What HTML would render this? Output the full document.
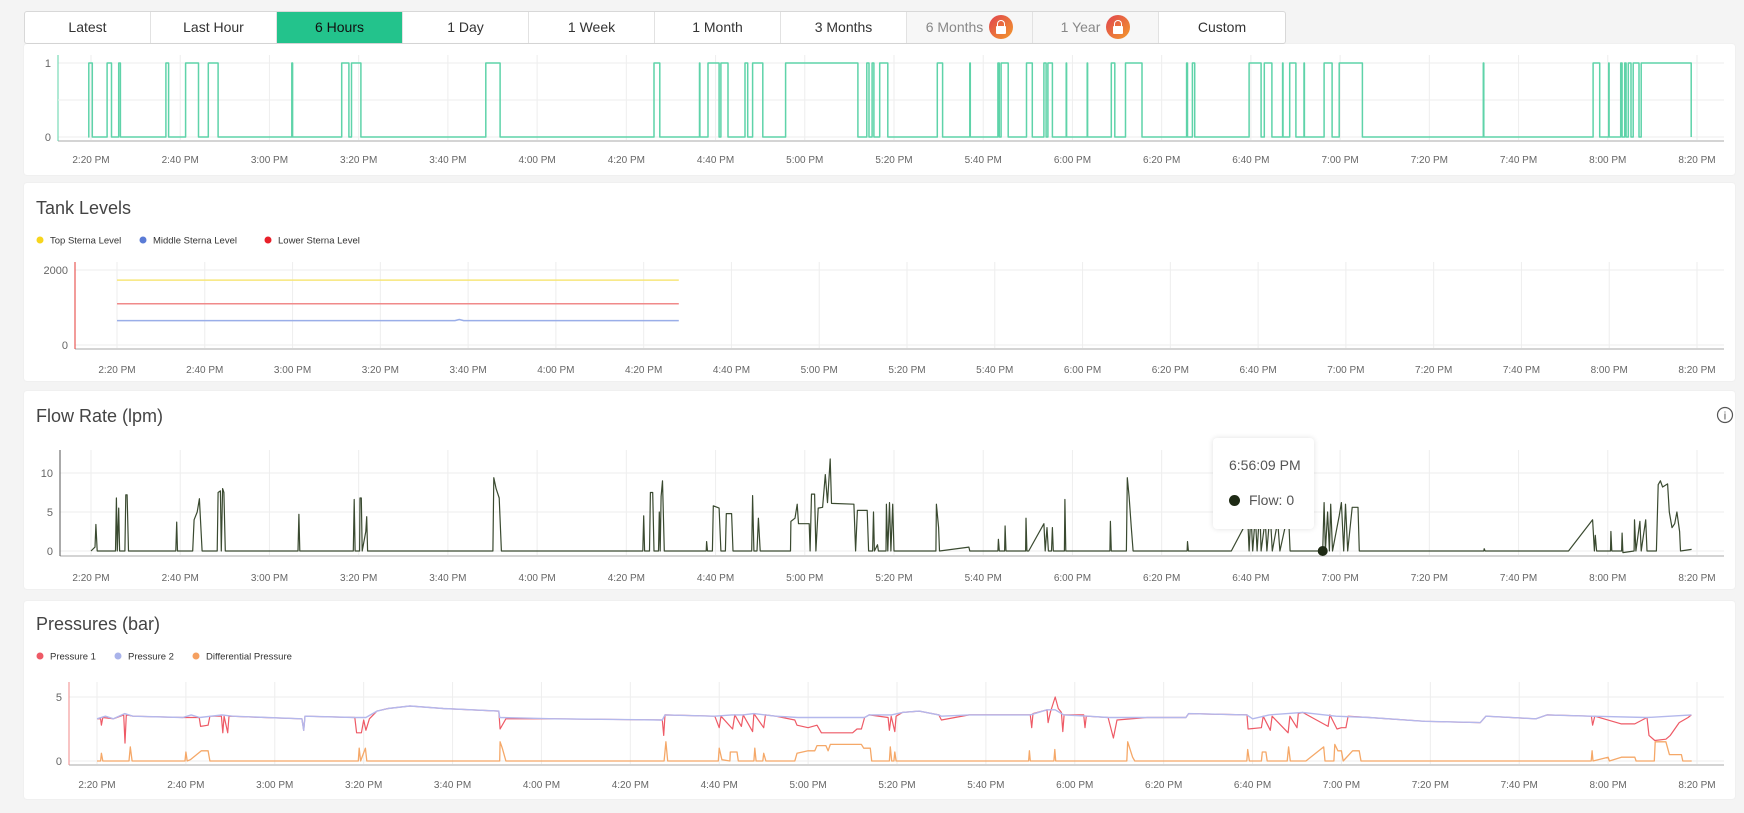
<!DOCTYPE html>
<html><head><meta charset="utf-8">
<style>
html,body{margin:0;padding:0;background:#f4f4f4;width:1744px;height:813px;overflow:hidden;font-family:"Liberation Sans",sans-serif;}
.card{position:absolute;left:24px;width:1711px;background:#fff;border-radius:3px;box-shadow:0 0 2px rgba(0,0,0,0.06);}
.btnbar{position:absolute;left:24px;top:11px;height:31px;display:flex;border:1px solid #d8d8d8;border-radius:3px;background:#fff;}
.btn{width:126px;height:31px;line-height:31px;text-align:center;font-size:14px;color:#333;border-right:1px solid #e2e2e2;box-sizing:border-box;position:relative;}
.btn:last-child{border-right:none;}
.btn.active{background:#23c38c;color:#111;}
.btn.locked{background:#f7f7f7;color:#888;}
.lock{display:inline-block;width:24px;height:24px;border-radius:50%;background:linear-gradient(135deg,#e0434f,#f39a2c);vertical-align:middle;margin-left:6px;position:relative;top:-1px;}
.lock:before{content:"";position:absolute;left:8px;top:5px;width:6px;height:6px;border:1.5px solid #fff;border-bottom:none;border-radius:4px 4px 0 0;}
.lock:after{content:"";position:absolute;left:7px;top:11px;width:10px;height:8px;background:#fff;border-radius:1px;}
.title{position:absolute;left:36px;font-size:18px;color:#444;}
svg{position:absolute;left:0;top:0;}
.tooltip{position:absolute;left:1213px;top:438px;width:101px;height:91px;background:#fff;border-radius:4px;box-shadow:0 0 6px rgba(0,0,0,0.12);font-size:14px;color:#555;}
</style></head><body>
<div class="btnbar">
<div class="btn">Latest</div>
<div class="btn">Last Hour</div>
<div class="btn active">6 Hours</div>
<div class="btn">1 Day</div>
<div class="btn">1 Week</div>
<div class="btn">1 Month</div>
<div class="btn">3 Months</div>
<div class="btn locked">6 Months<span class="lock"></span></div>
<div class="btn locked">1 Year<span class="lock"></span></div>
<div class="btn">Custom</div>
</div>
<div class="card" style="top:44px;height:131px"></div>
<div class="card" style="top:183px;height:198px"></div>
<div class="card" style="top:391px;height:198px"></div>
<div class="card" style="top:601px;height:198px"></div>
<div class="title" style="top:198px">Tank Levels</div>
<div class="title" style="top:406px">Flow Rate (lpm)</div>
<div class="title" style="top:614px">Pressures (bar)</div>
<svg id="chart" width="1744" height="813"></svg>
<div class="tooltip">
<div style="position:absolute;left:16px;top:19px">6:56:09 PM</div>
<div style="position:absolute;left:16px;top:57px;width:11px;height:11px;border-radius:50%;background:#1e2a14"></div>
<div style="position:absolute;left:36px;top:54px">Flow: 0</div>
</div>
<script>
const tickLabels=["2:20 PM","2:40 PM","3:00 PM","3:20 PM","3:40 PM","4:00 PM","4:20 PM","4:40 PM","5:00 PM","5:20 PM","5:40 PM","6:00 PM","6:20 PM","6:40 PM","7:00 PM","7:20 PM","7:40 PM","8:00 PM","8:20 PM"];
// status on-intervals in minutes since 2:20 PM
const statusOn=[[-0.5,0.3],[3.6,4.6],[6.2,6.6],[16.8,17.4],[21.2,24.1],[26.3,28.5],[45,45.2],[56.2,57.8],[58.4,60.5],[88.5,91.7],[126.2,127.5],[136.4,136.5],[138.3,140.8],[141.2,142.8],[146.6,147.2],[148.3,150.6],[155.7,171.9],[173.9,174.4],[175.1,175.5],[176.8,178.6],[189.7,190.9],[197,197.1],[203.3,203.6],[204,205.6],[209.7,211],[213.6,214.1],[214.5,215.5],[218.6,218.7],[223.3,223.4],[228.7,229.5],[231.9,235.6],[245.6,245.8],[246.9,247.4],[259.6,262.3],[263,264.7],[267.1,267.2],[268.7,270.1],[271.9,272],[276.4,278.2],[279.8,285],[312.1,312.2],[336.7,338.2],[340.2,340.3],[342.9,343.2],[343.8,344.1],[344.6,345.2],[345.7,347],[347.5,358.7]];
const tankTop=[[0,1730],[128,1730]];
const tankMid=[[0,650],[77,650],[78,680],[79,650],[128,650]];
const tankLow=[[0,1100],[128,1100]];
const flowPts=[[0,0],[0.9,0.5],[1.1,3.4],[1.4,0],[5.5,0],[5.7,6.8],[5.9,0],[6.2,5.5],[6.4,0],[7.6,0],[7.8,7.2],[8.1,7.2],[8.4,0],[19,0],[19.2,3.7],[19.4,0],[22.8,0],[23.1,4],[23.8,5],[24.3,6.7],[24.9,0],[28.3,0],[28.5,7.5],[29,7.7],[29.2,0],[29.5,8],[29.8,7.5],[30.1,0],[46.4,0],[46.6,4.7],[46.8,0],[58.8,0],[59,6.6],[59.2,0],[60.2,0],[60.3,6.8],[60.6,6.8],[60.8,0],[61.6,2.5],[61.8,4.4],[62,0],[90.1,0],[90.3,9.4],[90.8,8],[91.5,6.8],[92,0],[123.7,0],[123.9,4.5],[124.1,0],[125.2,0],[125.4,7.5],[125.9,7.5],[126.2,0],[127.2,0],[127.4,5],[127.6,0],[127.8,7],[128.1,9],[128.5,0],[137.9,0],[138,1.2],[138.2,0],[139.3,0],[139.5,5.8],[140.8,5.5],[141.2,0],[142.2,0],[142.4,4.8],[143.6,4.8],[143.9,0],[148.1,0],[148.3,7.1],[148.6,0],[149.3,0],[149.6,4.2],[150,0],[156.8,0],[156.9,3.8],[157.8,4.2],[158.3,6],[158.6,3.5],[161,3.5],[161.2,0],[161.5,7.3],[162.2,7.3],[162.5,0],[163,5.5],[164,5.6],[164.6,9.8],[165.1,6.2],[165.7,11.8],[166,6.1],[171,6],[171.4,0],[171.8,5.2],[174,5.2],[174.3,0],[175.2,0],[175.4,5],[175.6,0],[176.3,0.8],[176.5,0],[178.2,0],[178.3,6],[178.6,0],[179,6.2],[179.3,0],[179.7,6],[180,0],[189.4,0],[189.5,6],[190,3],[190.2,0],[196.8,0.5],[197,0],[203.3,0],[203.4,1.5],[203.6,0],[204.8,0],[204.9,3.2],[205.1,0],[209.5,0],[209.6,4.2],[209.8,0],[210.2,0],[213.6,3.5],[213.9,0],[214.3,3],[214.6,0],[215.3,0],[215.5,3],[215.7,0],[218.2,0],[218.3,6.6],[218.5,0],[228.4,0],[228.5,3.8],[228.7,0],[232.1,0],[232.3,9.4],[232.7,7],[233.2,3],[233.6,0],[245.7,0],[245.8,1.2],[246,0],[255.6,0],[259.3,4],[259.6,0],[260,5],[260.4,0],[261,4.5],[261.4,0],[262,5.5],[262.3,0],[263.2,4],[263.6,0],[264.3,5],[264.8,0],[266,3.8],[266.5,0],[268.4,5],[268.8,0],[275.9,0],[276.1,0],[276.4,6.2],[276.7,0],[277.2,5],[277.6,0],[277.9,6],[278.3,0],[279.8,4.5],[280.3,6.2],[280.8,0],[281.2,6],[281.7,0],[282.7,5.6],[284,5.6],[284.3,0],[312.2,0],[312.3,0.3],[312.5,0],[331.2,0],[336.6,4],[337,0],[337.2,2],[337.5,0],[340.6,0],[340.7,2.5],[340.9,0],[343.1,0],[343.2,2.3],[343.4,-0.2],[345.9,0],[346,4],[346.3,0],[347.2,3.8],[347.5,0],[348.5,4],[348.8,0],[350.9,0],[351.3,8.5],[351.8,9],[352.3,8.2],[353.4,8.6],[353.8,5],[354.4,3],[355,3.5],[355.5,5],[356.1,2.5],[356.3,0],[358.8,0.2]];
const p2Pts=[[0,3.3],[1.9,3.5],[3.7,3.3],[6.2,3.7],[8.1,3.5],[19.3,3.4],[21.2,3.6],[23.1,3.4],[28.1,3.6],[30.5,3.5],[46.1,3.3],[46.5,2.4],[46.8,3.5],[58,3.4],[60.5,3.4],[63,3.9],[65.5,4.1],[70.4,4.3],[77.9,4.1],[90.4,3.9],[90.6,3.4],[102.9,3.3],[127.2,3.2],[127.8,3.6],[139,3.5],[142.8,3.6],[145.3,3.6],[147.8,3.7],[152.7,3.5],[157.7,3.4],[172.7,3.4],[173.75,3.6],[178.75,3.6],[181.25,3.8],[185,3.9],[189.4,3.6],[190,3.5],[196.25,3.6],[205,3.6],[210,3.6],[213.75,4.0],[215.6,4.0],[217.5,3.6],[223.1,3.5],[227.5,3.4],[236.25,3.4],[245,3.4],[245.6,3.7],[258.75,3.6],[260,3.3],[263.75,3.6],[271.25,3.8],[278.75,3.5],[286.25,3.4],[298.75,3.1],[311.25,3.0],[312.5,3.5],[323.75,3.3],[326.25,3.6],[336.25,3.5],[348.75,3.4],[358.75,3.6]];
const p1Pts=[[0,3.3],[0.8,3.3],[1,2.8],[1.3,3.4],[3.7,3.3],[6,3.6],[6.3,1.4],[6.6,3.6],[8.1,3.5],[19.3,3.4],[23,3.4],[23.3,2.7],[25,2.8],[25.4,3.5],[28,3.5],[28.3,2.2],[28.6,3.5],[29.4,2.2],[29.7,3.5],[46.1,3.3],[46.5,2.4],[46.8,3.5],[58,3.4],[58.4,2.2],[59.5,2.2],[60,3.2],[60.5,2.4],[61.3,3.3],[63,3.9],[65.5,4.1],[70.4,4.3],[77.9,4.1],[90.4,3.9],[90.7,2.5],[92,3.3],[102.9,3.3],[127.2,3.2],[127.5,2.0],[127.8,3.6],[139,3.5],[140,2.6],[140.4,3.5],[143,2.5],[143.5,3.6],[145,2.7],[145.4,3.6],[147.5,2.3],[147.8,3.7],[150,2.6],[150.4,3.6],[152.7,3.5],[157,3.2],[157.5,2.8],[160,2.6],[162,2.8],[163,2.2],[170,2.2],[171,2.5],[172,2.5],[172.7,3.4],[173.75,3.6],[178,3.4],[178.3,2.4],[178.7,3.5],[179.5,2.3],[179.8,3.5],[181.25,3.8],[185,3.9],[189.4,3.6],[190,3.2],[196.25,3.6],[205,3.6],[210,3.6],[210.3,2.6],[210.6,3.7],[213.75,4.0],[214,3.0],[214.5,3.8],[215.6,5.0],[216.3,4.1],[217,3.8],[217.3,2.3],[217.6,3.6],[222,3.6],[222.3,2.6],[222.6,3.5],[227.5,3.4],[228.7,1.8],[229.5,3.2],[236.25,3.4],[245,3.4],[245.6,3.7],[258.75,3.6],[259,2.5],[262,2.6],[262.4,3.5],[264,2.4],[264.4,3.5],[268,2.2],[268.4,3.5],[270,2.6],[270.3,3.7],[271.25,3.8],[277,2.7],[277.4,3.6],[279,2.5],[280,2.6],[281,2.6],[281.5,3.5],[286.25,3.4],[298.75,3.1],[311.25,3.0],[312.5,3.5],[323.75,3.3],[326.25,3.6],[336.25,3.5],[336.5,2.8],[337,3.5],[343,2.9],[346,2.9],[348.75,3.4],[349.2,2.0],[350.5,1.6],[353,1.7],[354,2.0],[356,3.0],[358,3.4],[358.75,3.6]];
const dpPts=[[0,0],[0.8,0],[1,0.6],[1.3,0],[7.2,0],[7.5,1.1],[7.9,0],[19.8,0],[20,0.7],[20.3,0],[21,0.1],[23.5,0.8],[25,0.8],[25.4,0],[58.8,0],[59,1],[59.3,0],[60.4,1],[60.7,0],[90.6,0],[90.7,1.5],[91.2,1.0],[92,0],[127.6,0],[128,1.5],[128.4,0],[139.8,0],[140,1],[140.6,0.1],[142.4,0],[142.5,0.7],[144,0.7],[144.3,0],[147.8,0],[148,1],[148.3,0],[149.8,0],[150,0.6],[150.5,0],[157,0],[157.5,0.6],[160,0.8],[161.5,0.8],[162,1.2],[164,1.2],[164.5,0.8],[165,1.3],[172,1.3],[172.5,1.0],[174,1.0],[174.3,0],[178.3,0],[178.5,1.1],[178.8,0],[179.3,0],[179.5,0.7],[179.8,0],[209.6,0],[209.8,0.8],[210,0],[215.3,0],[215.5,0.9],[215.7,0],[231.7,0],[231.9,1.5],[233,0.3],[233.5,0],[258.7,0],[258.9,0.9],[259.3,0],[262,0],[262.2,0.7],[263,0.7],[263.3,0],[267.8,0],[268.1,1.1],[268.5,0],[272,0],[276,1.1],[276.3,0],[278.3,0],[278.5,1.3],[279.2,0.8],[280,0.8],[280.4,0],[282.5,0.8],[284,0.8],[284.4,0],[336.2,0],[336.4,0.8],[336.6,0],[340,0.3],[340.3,0],[343,0.3],[346,0.3],[346.3,0],[350.4,0],[350.6,1.5],[353,1.5],[353.8,0.5],[355,0.5],[356.5,0.5],[356.8,0],[358.8,0]];

const NS="http://www.w3.org/2000/svg";
const svg=document.getElementById('chart');
function mk(tag,attrs,name){const e=document.createElementNS(NS,tag);for(const k in attrs)e.setAttribute(k,attrs[k]);


svg.appendChild(e);return e;}
function txt(x,y,s,anchor,size,fill,name){const t=mk('text',{x:x,y:y,'text-anchor':anchor,'font-size':size,fill:fill,'font-family':'Liberation Sans, sans-serif'},name);t.textContent=s;return t;}
function axes(P){
  const xs=t=>P.x0+t*(P.x1-P.x0)/360;
  for(let i=0;i<tickLabels.length;i++){const x=xs(i*20);
    mk('line',{x1:x,x2:x,y1:P.gTop,y2:P.axisY,stroke:'#eeeeee','stroke-width':1},'x-gridline');
    txt(x,P.lblY,tickLabels[i],'middle',10,'#666','x-tick-label');}
  const ys=v=>P.yZero+(P.yOne-P.yZero)*v/P.yRef;
  P.yTicks.forEach(v=>{mk('line',{x1:P.left,x2:P.right,y1:ys(v),y2:ys(v),stroke:'#eeeeee','stroke-width':1},'y-gridline');
    txt(P.left-7,ys(v)+4,String(v),'end',11,'#666','y-tick-label');});
  mk('line',{x1:P.left,x2:P.right,y1:P.axisY,y2:P.axisY,stroke:'#d4d4d4','stroke-width':2},'x-axis');
  mk('line',{x1:P.left,x2:P.left,y1:P.gTop,y2:P.axisY,stroke:P.axColor,'stroke-width':1},'y-axis');
  return [xs,ys];
}
function line(pts,xs,ys,color,w,name){const d=pts.map((p,i)=>(i?'L':'M')+xs(p[0]).toFixed(1)+','+ys(p[1]).toFixed(1)).join('');
  mk('path',{d:d,fill:'none',stroke:color,'stroke-width':w,'stroke-linejoin':'round'},name);}
// panel 1
(function(){const P={x0:91,x1:1697,left:58,right:1724,gTop:55,axisY:141,lblY:163,yZero:137,yOne:63,yRef:1,yTicks:[0,1],axColor:'#5fd3a9'};
 const [xs,ys]=axes(P);
 mk('line',{x1:P.left,x2:P.right,y1:100,y2:100,stroke:'#eeeeee'},'y-gridline');
 const pts=[];statusOn.forEach(iv=>{pts.push([iv[0],0],[iv[0],1],[iv[1],1],[iv[1],0]);});
 pts.unshift([-0.5,1]);pts.push([358.7,0]);
 line(pts,xs,ys,'#5fd3a9',1.5,'status-line');})();
// panel 2
(function(){const P={x0:117,x1:1697,left:75,right:1724,gTop:262,axisY:349,lblY:373,yZero:345,yOne:270,yRef:2000,yTicks:[0,2000],axColor:'#e53935'};
 const [xs,ys]=axes(P);
 line(tankTop,xs,ys,'#f7e67a',1.5,'top-sterna-line');
 line(tankLow,xs,ys,'#f08a8a',1.5,'lower-sterna-line');
 line(tankMid,xs,ys,'#9aaee8',1.5,'middle-sterna-line');
 [['Top Sterna Level','#f7d51d',37],['Middle Sterna Level','#5a7bd6',140],['Lower Sterna Level','#e8202a',265]].forEach(l=>{
  mk('circle',{cx:l[2]+3,cy:240,r:3.5,fill:l[1]},'legend-marker');txt(l[2]+13,243.5,l[0],'start',9.5,'#333','legend-entry');});})();
// panel 3
(function(){const P={x0:91,x1:1697,left:60,right:1724,gTop:450,axisY:556,lblY:581,yZero:551,yOne:473,yRef:10,yTicks:[0,5,10],axColor:'#555'};
 const [xs,ys]=axes(P);
 line(flowPts,xs,ys,'#3a4a30',1.2,'flow-line');
 mk('circle',{cx:xs(276.1),cy:ys(0),r:5,fill:'#1e2a14'},'hover-point');
 mk('circle',{cx:1725,cy:415,r:7.5,fill:'none',stroke:'#555','stroke-width':1.2},'info-icon');
 txt(1725,419.5,'i','middle',11,'#555','info-icon-glyph');})();
// panel 4
(function(){const P={x0:97,x1:1697,left:69,right:1724,gTop:682,axisY:765,lblY:788,yZero:761,yOne:697,yRef:5,yTicks:[0,5],axColor:'#f08a8a'};
 const [xs,ys]=axes(P);
 line(dpPts,xs,ys,'#f5a868',1.3,'differential-pressure-line');
 line(p1Pts,xs,ys,'#ee5a66',1.2,'pressure-1-line');
 line(p2Pts,xs,ys,'#b4b8ec',1.4,'pressure-2-line');
 [['Pressure 1','#ee5a66',37],['Pressure 2','#a9b3ea',115],['Differential Pressure','#f5a060',193]].forEach(l=>{
  mk('circle',{cx:l[2]+3,cy:656,r:3.5,fill:l[1]},'legend-marker');txt(l[2]+13,659.5,l[0],'start',9.5,'#333','legend-entry');});})();
</script>
</body></html>
